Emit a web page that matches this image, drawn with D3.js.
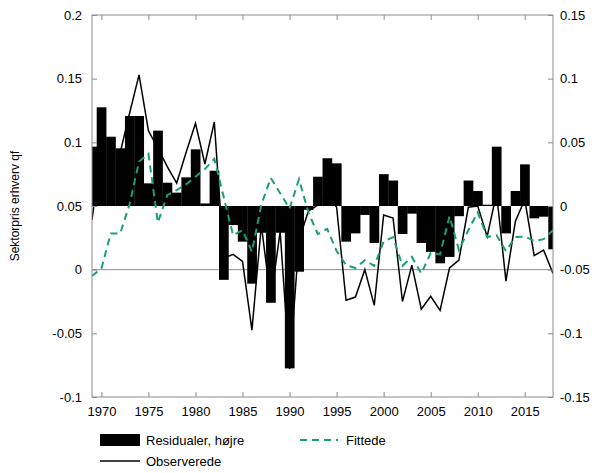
<!DOCTYPE html>
<html>
<head>
<meta charset="utf-8">
<script src="https://cdn.jsdelivr.net/npm/d3@7/dist/d3.min.js"></script>
<style>
  body { margin: 0; background: #fff; }
  text { font-family: "Liberation Sans", Arial, sans-serif; }
</style>
</head>
<body>
<svg id="chart" width="606" height="473"></svg>
<script>
var years = d3.range(1969, 2019);

// residualer (right axis)
var residualer = [
  0.0466, 0.0775, 0.0544, 0.0453, 0.0707, 0.0707, 0.0178, 0.0592, 0.0183, 0.0105,
  0.0225, 0.0445, 0.002, 0.0277, -0.058, -0.015, -0.028, -0.061, -0.021, -0.076,
  -0.021, -0.1275, -0.0516, -0.003, 0.023, 0.0375, 0.0335, -0.028, -0.0215, -0.007,
  -0.029, 0.025, 0.020, -0.022, -0.006, -0.029, -0.036, -0.045, -0.040, -0.008,
  0.020, 0.0118, 0.001, 0.0466, -0.0215, 0.0118, 0.0327, -0.0097, -0.0084, -0.034
];

// fittede (left axis)
var fittede = [
  -0.005, 0.001, 0.0285, 0.0285, 0.0515, 0.085, 0.091, 0.037, 0.0585, 0.0625,
  0.067, 0.073, 0.079, 0.087, 0.057, 0.027, 0.031, 0.014, 0.051, 0.072,
  0.060, 0.048, 0.071, 0.045, 0.028, 0.032, 0.0146, 0.0036, 0.0013, 0.0075,
  0.003, 0.022, 0.0256, 0.003, 0.010, -0.003, 0.013, 0.012, 0.042, 0.0154,
  0.031, 0.045, 0.0256, 0.027, 0.0146, 0.0256, 0.026, 0.0225, 0.024, 0.031
];

// observerede (left axis)
var observerede = [
  0.039, 0.095, 0.09, 0.092, 0.123, 0.153, 0.109, 0.0955, 0.081, 0.068,
  0.092, 0.115, 0.083, 0.116, 0.009, 0.012, 0.0065, -0.0475, 0.035, -0.024,
  0.03, -0.078, 0.023, 0.046, 0.0507, 0.06, 0.049, -0.024, -0.0215, 0.0,
  -0.028, 0.043, 0.0406, -0.025, 0.0036, -0.031, -0.021, -0.032, 0.0013, 0.0075,
  0.049, 0.05, 0.026, 0.06, -0.009, 0.038, 0.055, 0.011, 0.0154, -0.003
];

var xTicks = [1970, 1975, 1980, 1985, 1990, 1995, 2000, 2005, 2010, 2015];
var leftTicks = [-0.1, -0.05, 0, 0.05, 0.1, 0.15, 0.2];
var leftLabels = ["-0.1", "-0.05", "0", "0.05", "0.1", "0.15", "0.2"];
var rightTicks = [-0.15, -0.1, -0.05, 0, 0.05, 0.1, 0.15];
var rightLabels = ["-0.15", "-0.1", "-0.05", "0", "0.05", "0.1", "0.15"];

function drawChart() {
  var pLeft = 92, pRight = 553, pTop = 15, pBottom = 397;
  var green = '#1a9e77';
  var frame = '#8c8c8c';

  var svg = d3.select('#chart');

  var x = d3.scaleLinear().domain([1969, 2018]).range([pLeft, pRight]);
  var yL = d3.scaleLinear().domain([-0.1, 0.2]).range([pBottom, pTop]);
  var yR = d3.scaleLinear().domain([-0.15, 0.15]).range([pBottom, pTop]);
  var bw = x(1970) - x(1969);

  svg.append('clipPath').attr('id', 'plot')
    .append('rect')
    .attr('x', pLeft).attr('y', pTop)
    .attr('width', pRight - pLeft).attr('height', pBottom - pTop);

  var data = years.map(function(yr, i) {
    return { year: yr, res: residualer[i], fit: fittede[i], obs: observerede[i] };
  });

  var plot = svg.append('g').attr('clip-path', 'url(#plot)');

  // zero line of left axis
  plot.append('line')
    .attr('x1', pLeft).attr('x2', pRight)
    .attr('y1', yL(0)).attr('y2', yL(0))
    .attr('stroke', frame).attr('stroke-width', 1);

  var line = function(key) {
    return d3.line()
      .x(function(d) { return x(d.year); })
      .y(function(d) { return yL(d[key]); });
  };

  plot.append('path')
    .datum(data)
    .attr('d', line('obs'))
    .attr('fill', 'none')
    .attr('stroke', 'black')
    .attr('stroke-width', 1.5);

  plot.selectAll('rect.bar')
    .data(data)
    .enter()
    .append('rect')
    .attr('class', 'bar')
    .attr('x', function(d) { return x(d.year) - bw / 2; })
    .attr('width', bw + 0.3)
    .attr('y', function(d) { return Math.min(yR(d.res), yR(0)); })
    .attr('height', function(d) { return Math.abs(yR(d.res) - yR(0)); })
    .attr('fill', 'black');

  plot.append('path')
    .datum(data)
    .attr('d', line('fit'))
    .attr('fill', 'none')
    .attr('stroke', green)
    .attr('stroke-width', 2)
    .attr('stroke-dasharray', '7,5');

  // axes
  function styleAxis(g) {
    g.select('.domain').remove();
    g.selectAll('line').attr('stroke', frame);
    g.selectAll('text')
      .attr('fill', 'black')
      .style('font-size', '13px')
      .style('font-family', '"Liberation Sans", Arial, sans-serif');
  }

  svg.append('g')
    .attr('transform', 'translate(' + pLeft + ',0)')
    .call(d3.axisLeft(yL).tickValues(leftTicks).tickSize(-5).tickPadding(10)
      .tickFormat(function(d, i) { return leftLabels[i]; }))
    .call(styleAxis);

  svg.append('g')
    .attr('transform', 'translate(' + pRight + ',0)')
    .call(d3.axisRight(yR).tickValues(rightTicks).tickSize(-5).tickPadding(7)
      .tickFormat(function(d, i) { return rightLabels[i]; }))
    .call(styleAxis);

  svg.append('g')
    .attr('transform', 'translate(0,' + pBottom + ')')
    .call(d3.axisBottom(x).tickValues(xTicks).tickSize(-5).tickPadding(10)
      .tickFormat(d3.format('d')))
    .call(styleAxis);

  svg.append('g')
    .attr('transform', 'translate(0,' + pTop + ')')
    .call(d3.axisTop(x).tickValues(xTicks).tickSize(-5).tickFormat(''))
    .call(styleAxis);

  // frame
  svg.append('rect')
    .attr('x', pLeft).attr('y', pTop)
    .attr('width', pRight - pLeft).attr('height', pBottom - pTop)
    .attr('fill', 'none')
    .attr('stroke', frame)
    .attr('stroke-width', 1);

  // y title
  svg.append('text')
    .attr('transform', 'translate(19,206) rotate(-90)')
    .attr('text-anchor', 'middle')
    .style('font-size', '12px')
    .text('Sektorpris erhverv qf');

  // legend
  var lg = svg.append('g');
  lg.append('rect')
    .attr('x', 100).attr('y', 434).attr('width', 40).attr('height', 12)
    .attr('fill', 'black');
  lg.append('text').attr('x', 146).attr('y', 445).style('font-size', '13px')
    .text('Residualer, højre');
  lg.append('line')
    .attr('x1', 300).attr('x2', 338).attr('y1', 440).attr('y2', 440)
    .attr('stroke', green).attr('stroke-width', 2).attr('stroke-dasharray', '7,5');
  lg.append('text').attr('x', 346).attr('y', 445).style('font-size', '13px')
    .text('Fittede');
  lg.append('line')
    .attr('x1', 100).attr('x2', 140).attr('y1', 461).attr('y2', 461)
    .attr('stroke', 'black').attr('stroke-width', 1.5);
  lg.append('text').attr('x', 146).attr('y', 466).style('font-size', '13px')
    .text('Observerede');
}

drawChart();
</script>
</body>
</html>
